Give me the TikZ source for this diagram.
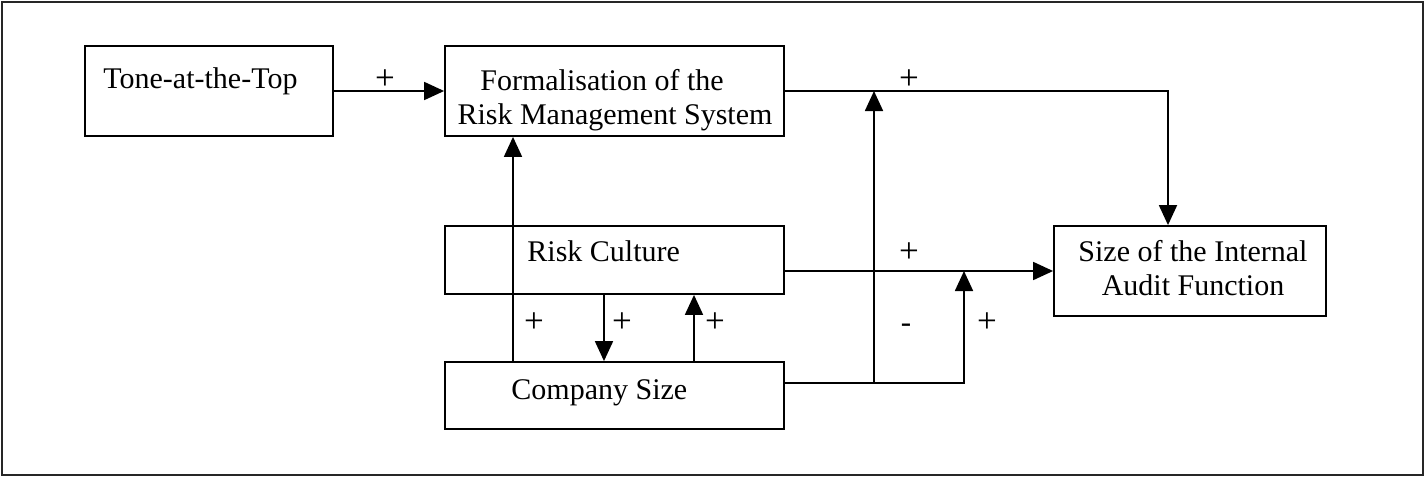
\documentclass[tikz,border=0pt]{standalone}
\usepackage{fontspec}
\setmainfont{Liberation Serif}
\usetikzlibrary{arrows.meta}
\begin{document}
\begin{tikzpicture}[x=0.5pt,y=-0.5pt,
  box/.style={draw, rectangle, line width=0.9pt, inner sep=0pt},
  txt/.style={inner sep=0pt, font=\fontsize{15pt}{17pt}\selectfont},
  sign/.style={inner sep=0pt, font=\fontsize{17.5pt}{19pt}\selectfont},
  minus/.style={inner sep=0pt, font=\fontsize{15.5pt}{17pt}\selectfont},
  conn/.style={line width=0.9pt},
  arr/.style={conn, -{Triangle[length=10pt,width=9pt]}}
  ]
\useasboundingbox (0,0) rectangle (1425,477);
\draw[line width=0.8pt, draw=black!85] (2,2) rectangle (1423,475);
% boxes
\node[box, minimum width=124pt, minimum height=45pt] (tone) at (209,91) {};
\node[box, minimum width=169.5pt, minimum height=45pt] (form) at (614.5,91) {};
\node[box, minimum width=169.5pt, minimum height=34pt] (rc) at (614.5,260) {};
\node[box, minimum width=169.5pt, minimum height=33.5pt] (cs) at (614.5,395.5) {};
\node[box, minimum width=136pt, minimum height=45pt] (size) at (1190,271) {};
% texts
\node[txt, anchor=base west] (tonet) at (103,88) {Tone-at-the-Top};
\node[txt, align=center] (formt) at (615,100) {Formalisation of the\rule{13pt}{0pt}\\Risk Management System};
\node[txt, align=center] (sizet) at (1193,268) {Size of the Internal\\Audit Function};
\node[txt, anchor=base west] (rct) at (527,261) {Risk Culture};
\node[txt, anchor=base west] (cst) at (511,399) {Company Size};
% helper coordinates
\coordinate (tr) at (1168,91);
\coordinate (vx) at (874,91);
\coordinate (jl) at (874,383);
\coordinate (jr) at (964,383);
\coordinate (mr) at (964,271);
\coordinate (x1) at (513,0);
\coordinate (x2) at (604,0);
\coordinate (x3) at (694,0);
% connectors
\draw[arr] (tone.east) -- (form.west);
\draw[arr] (form.east) -- (tr) -- (tr |- size.north);
\draw[arr] (cs.north -| x1) -- (form.south -| x1);
\draw[arr] (rc.south -| x2) -- (cs.north -| x2);
\draw[arr] (cs.north -| x3) -- (rc.south -| x3);
\draw[arr] (rc.east |- size.west) -- (size.west);
\draw[arr] (cs.east |- jl) -- (jr) -- (mr);
\draw[arr] (jl) -- (vx);
% signs
\node[sign] (p1) at (385,80) {+};
\node[sign] (p2) at (909,80) {+};
\node[sign] (p3) at (909,253) {+};
\node[sign] (p4) at (534,323) {+};
\node[sign] (p5) at (622,323) {+};
\node[sign] (p6) at (715,323) {+};
\node[minus] (m1) at (906,328) {-};
\node[sign] (p7) at (987,323) {+};
\end{tikzpicture}
\end{document}
